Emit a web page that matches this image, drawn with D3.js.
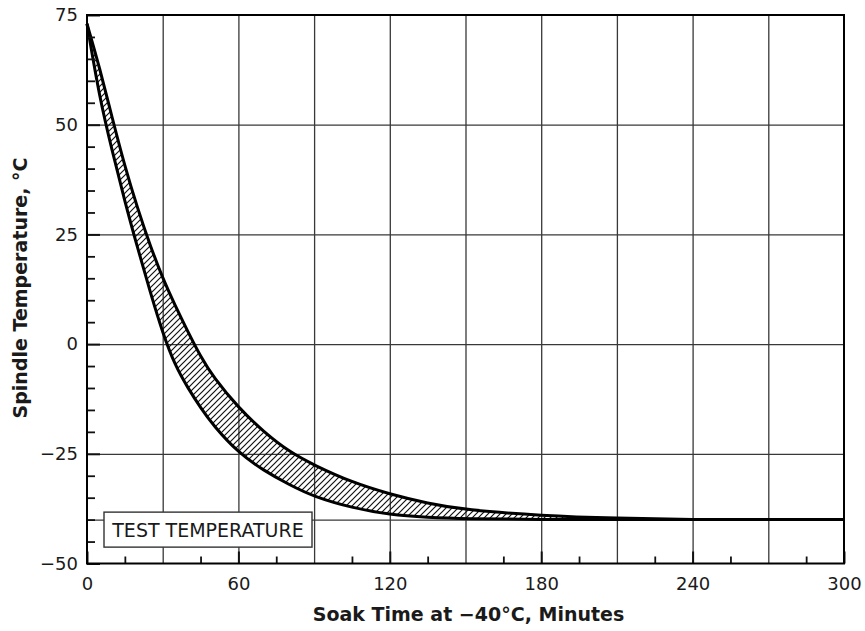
<!DOCTYPE html>
<html>
<head>
<meta charset="utf-8">
<script src="https://d3js.org/d3.v7.min.js"></script>
<style>
  body { margin: 0; background: #fff; }
  svg text { font-family: "DejaVu Sans", Verdana, sans-serif; fill: #1a1a1a; }
</style>
</head>
<body>
<div id="chart"></div>
<script>

// soak time (minutes) and the two boundary curves of the spindle temperature band
var soakTimes = [0, 5, 10, 15, 20, 25, 30, 35, 40, 45, 50, 60, 70, 80, 90, 105, 120, 135, 150, 180, 210, 240, 270, 300];
var fastTemps = [73, 56, 44, 32.5, 22, 12, 2.5, -5, -10, -14.5, -18.5, -24.8, -28.8, -32, -34.8, -37.3, -38.9, -39.5, -39.8, -40, -40, -40, -40, -40];
var slowTemps = [73, 63, 51.5, 40.5, 31, 22.5, 15, 8.7, 2.8, -2.8, -7.5, -14.5, -20, -24.5, -27.6, -31.5, -34.2, -36.3, -37.8, -39.1, -39.7, -40, -40, -40];

// axis ticks and grid
var xTickValues = [0, 60, 120, 180, 240, 300];
var xGridValues = [30, 60, 90, 120, 150, 180, 210, 240, 270];
var xMinorValues = [15, 45, 75, 105, 135, 165, 195, 225, 255, 285];
var yTickValues = [-50, -25, 0, 25, 50, 75];
var yGridValues = [-25, 0, 25, 50];
var yMinorValues = [-45, -40, -35, -30, -20, -15, -10, -5, 5, 10, 15, 20, 30, 35, 40, 45, 55, 60, 65, 70];

var testTemperature = -40;
var testLabel = "TEST TEMPERATURE";
var xTitle = "Soak Time at \u221240\u00b0C, Minutes";
var yTitle = "Spindle Temperature, \u00b0C";

var data = soakTimes.map(function(t, i) {
  return {t: t, lo: fastTemps[i], hi: slowTemps[i]};
});

// chart dimensions
var margin = {top: 15, right: 21, bottom: 67.5, left: 87},
    width = 865 - margin.left - margin.right,
    height = 631 - margin.top - margin.bottom;

var xScale = d3.scaleLinear().domain([0, 300]).range([0, width]);
var yScale = d3.scaleLinear().domain([-50, 75]).range([height, 0]);

var svg = d3.select("#chart").append("svg")
    .attr("width", 865)
    .attr("height", 631)
    .append("g")
    .attr("transform", "translate(" + margin.left + "," + margin.top + ")");

// hatch for the band
svg.append("defs").append("pattern")
    .attr("id", "hatch")
    .attr("patternUnits", "userSpaceOnUse")
    .attr("width", 6)
    .attr("height", 6)
  .append("path")
    .attr("d", "M-1,1 l2,-2 M0,6 l6,-6 M5,7 l2,-2")
    .attr("stroke", "#111")
    .attr("stroke-width", 1.2);

// grid lines
svg.append("g")
    .attr("class", "grid")
    .attr("transform", "translate(0," + height + ")")
    .call(d3.axisBottom(xScale).tickValues(xGridValues).tickSize(-height).tickFormat(""));

svg.append("g")
    .attr("class", "grid")
    .call(d3.axisLeft(yScale).tickValues(yGridValues.concat([testTemperature])).tickSize(-width).tickFormat(""));

svg.selectAll(".grid .domain").remove();
svg.selectAll(".grid line").attr("stroke", "#383838").attr("stroke-width", 1.3);

// the band
var area = d3.area()
    .x(function(d) { return xScale(d.t); })
    .y0(function(d) { return yScale(d.lo); })
    .y1(function(d) { return yScale(d.hi); })
    .curve(d3.curveBasis);

svg.append("path")
    .datum(data)
    .attr("d", area)
    .attr("fill", "url(#hatch)");

var lowLine = d3.line()
    .x(function(d) { return xScale(d.t); })
    .y(function(d) { return yScale(d.lo); })
    .curve(d3.curveBasis);

var highLine = d3.line()
    .x(function(d) { return xScale(d.t); })
    .y(function(d) { return yScale(d.hi); })
    .curve(d3.curveBasis);

[lowLine, highLine].forEach(function(fn) {
  svg.append("path")
      .datum(data)
      .attr("d", fn)
      .attr("fill", "none")
      .attr("stroke", "#000")
      .attr("stroke-width", 3)
      .attr("stroke-linejoin", "round");
});

// minor ticks (pointing into the plot)
svg.append("g")
    .attr("class", "minor")
    .attr("transform", "translate(0," + height + ")")
    .call(d3.axisBottom(xScale).tickValues(xMinorValues).tickSize(-7).tickFormat(""));

svg.append("g")
    .attr("class", "minor")
    .call(d3.axisLeft(yScale).tickValues(yMinorValues).tickSize(-8).tickFormat(""));

svg.selectAll(".minor .domain").remove();
svg.selectAll(".minor line").attr("stroke", "#111").attr("stroke-width", 1.8);

// major axes with labels
var xAxis = d3.axisBottom(xScale).tickValues(xTickValues).tickSize(-12).tickPadding(13.5),
    yAxis = d3.axisLeft(yScale).tickValues(yTickValues).tickSize(-13).tickPadding(9);

svg.append("g")
    .attr("class", "x axis")
    .attr("transform", "translate(0," + height + ")")
    .call(xAxis);

svg.append("g")
    .attr("class", "y axis")
    .call(yAxis);

svg.selectAll(".axis .domain").remove();
svg.selectAll(".axis line").attr("stroke", "#111").attr("stroke-width", 2);
svg.selectAll(".axis text")
    .attr("font-size", 18)
    .style("font-family", "'DejaVu Sans', Verdana, sans-serif")
    .attr("fill", "#1a1a1a");

// frame
svg.append("rect")
    .attr("width", width)
    .attr("height", height)
    .attr("fill", "none")
    .attr("stroke", "#000")
    .attr("stroke-width", 2);

// test temperature label
var boxTop = yScale(testTemperature) - 7.5;
svg.append("rect")
    .attr("x", 17)
    .attr("y", boxTop)
    .attr("width", 208)
    .attr("height", 35)
    .attr("fill", "#fff")
    .attr("stroke", "#333")
    .attr("stroke-width", 1.4);

svg.append("text")
    .attr("x", 17 + 104)
    .attr("y", boxTop + 24.5)
    .attr("text-anchor", "middle")
    .attr("font-size", 19)
    .text(testLabel);

// axis titles
svg.append("text")
    .attr("x", width / 2 + 3)
    .attr("y", height + 57.5)
    .attr("text-anchor", "middle")
    .attr("font-size", 19)
    .attr("font-weight", "bold")
    .text(xTitle);

svg.append("text")
    .attr("transform", "translate(" + (27 - margin.left) + "," + (288 - margin.top) + ") rotate(-90)")
    .attr("text-anchor", "middle")
    .attr("font-size", 19)
    .attr("font-weight", "bold")
    .text(yTitle);

</script>
</body>
</html>
